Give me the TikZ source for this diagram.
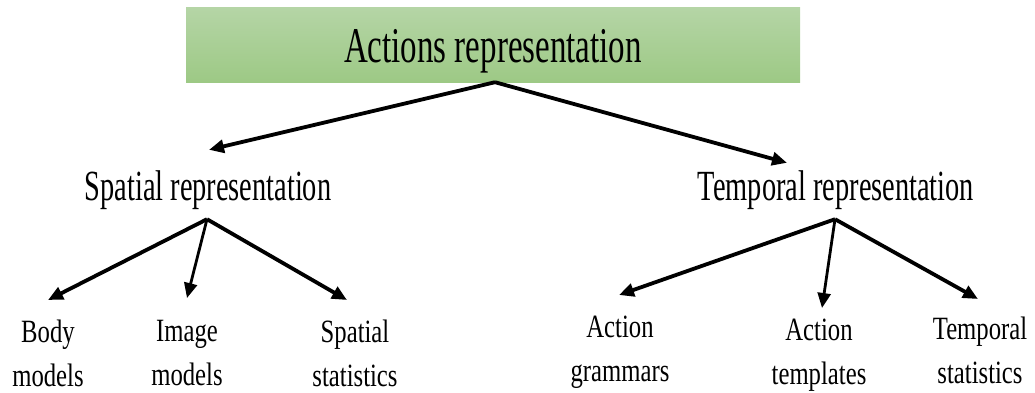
\documentclass[tikz,border=0pt]{standalone}
\usepackage{fontspec}
\setmainfont{Liberation Serif}[FakeStretch=0.66]
\newfontfamily\leaffont{Liberation Serif}[FakeStretch=0.76]
\usetikzlibrary{arrows.meta}
\definecolor{boxtop}{RGB}{181,213,166}
\definecolor{boxbot}{RGB}{157,201,133}
\begin{document}
\begin{tikzpicture}[x=1pt,y=-1pt,
  link/.style={line width=3.8pt,-{Triangle[length=15pt,width=13pt]}},
  thinlink/.style={link,line width=2.8pt},
  rootbox/.style={rectangle,top color=boxtop,bottom color=boxbot,draw=none,
    minimum width=614pt,minimum height=75pt,inner sep=0pt,
    font=\fontsize{50}{60}\selectfont,text height=35pt,text depth=0pt},
  branch/.style={anchor=base,inner sep=0pt,font=\fontsize{43}{50}\selectfont,
    text height=28pt,text depth=9pt},
  leaf/.style={anchor=north,inner sep=0pt,align=center,
    font=\leaffont\fontsize{32.5}{44}\selectfont}]
\useasboundingbox (0,0) rectangle (1035,392);

% root of the taxonomy
\node[rootbox] (root) at (493,44.5) {Actions representation};

% second level
\node[branch] (sp) at (208,200) {Spatial representation};
\node[branch] (tp) at (836,200) {Temporal representation};

% leaves
\node[leaf] (body)  at (48,320)  {Body\\models};
\node[leaf] (img)   at (187,320) {Image\\models};
\node[leaf] (sstat) at (355,320) {Spatial\\statistics};
\node[leaf] (gram)  at (620,316) {Action\\grammars};
\node[leaf] (tmpl)  at (819,319) {Action\\templates};
\node[leaf] (tstat) at (980,317) {Temporal\\statistics};

% connectors
\draw[link] ([xshift=2pt]root.south) -- ([xshift=1pt,yshift=22pt]sp.north);
\draw[link] ([xshift=2pt]root.south) -- ([xshift=-49pt,yshift=9pt]tp.north);

\draw[link]     ([xshift=-1pt,yshift=-10pt]sp.south) -- ([yshift=20pt]body.north);
\draw[thinlink] ([xshift=-1pt,yshift=-10pt]sp.south) -- ([yshift=22pt]img.north);
\draw[link]     ([xshift=-1pt,yshift=-10pt]sp.south) -- ([xshift=-8pt,yshift=20pt]sstat.north);

\draw[link]     ([xshift=-1pt,yshift=-10pt]tp.south) -- ([xshift=-1pt,yshift=21pt]gram.north);
\draw[thinlink] ([xshift=-1pt,yshift=-10pt]tp.south) -- ([xshift=3pt,yshift=11pt]tmpl.north);
\draw[link]     ([xshift=-1pt,yshift=-10pt]tp.south) -- ([xshift=-2pt,yshift=18pt]tstat.north);
\end{tikzpicture}
\end{document}
